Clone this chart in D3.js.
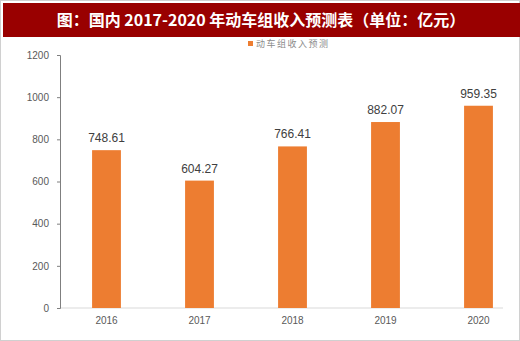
<!DOCTYPE html>
<html><head><meta charset="utf-8">
<script src="https://cdn.jsdelivr.net/npm/d3@7"></script>
<style>body{margin:0;background:#fff}svg{display:block}</style>
</head><body>
<script>
const categories = ["2016","2017","2018","2019","2020"];
const values = [748.61, 604.27, 766.41, 882.07, 959.35];
const yTicks = [0,200,400,600,800,1000,1200];
const title = "图：国内 2017-2020 年动车组收入预测表（单位：亿元）";
const seriesName = "动车组收入预测";

const W = 520, H = 341;
const svg = d3.select("body").append("svg").attr("width", W).attr("height", H);
svg.append("rect").attr("x",0.5).attr("y",0.5).attr("width",W-1).attr("height",H-1)
  .attr("fill","#fff").attr("stroke","#d0d0d0");
svg.append("rect").attr("x",3).attr("y",3).attr("width",W-3).attr("height",34).attr("fill","#990000");
svg.append("text").attr("x",261).attr("y",26).attr("text-anchor","middle")
  .attr("fill","#fff").attr("font-family","'Noto Sans CJK SC'").attr("font-weight","bold")
  .attr("font-size",16).text(title);

// legend
svg.append("rect").attr("x",248).attr("y",41).attr("width",5).attr("height",5).attr("fill","#ED7D31");
svg.append("text").attr("x",256).attr("y",47).attr("fill","#8c8c8c")
  .attr("font-family","'Noto Sans CJK SC'").attr("font-size",9).attr("letter-spacing",1.5).text(seriesName);

const x = d3.scaleBand().domain(categories).range([60,525]).paddingInner(0.69).paddingOuter(0.345);
const y = d3.scaleLinear().domain([0,1200]).range([308,55]);

// x baseline
svg.append("line").attr("x1",60).attr("x2",503).attr("y1",y(0)).attr("y2",y(0)).attr("stroke","#d9d9d9");

const yAxis = svg.append("g").attr("transform","translate(60,0)")
  .call(d3.axisLeft(y).tickValues(yTicks).tickFormat(d3.format("d")).tickSize(3).tickPadding(8));
yAxis.select(".domain").attr("stroke","#7f7f7f");
yAxis.selectAll(".tick line").attr("stroke","#7f7f7f");
yAxis.selectAll("text").attr("fill","#595959").attr("font-family","Liberation Sans, Arial").attr("font-size",10);

svg.selectAll(".bar").data(values).join("rect").attr("class","bar")
  .attr("x",(d,i)=>x(categories[i])).attr("width",x.bandwidth())
  .attr("y",d=>y(d)).attr("height",d=>y(0)-y(d)).attr("fill","#ED7D31");

svg.selectAll(".lbl").data(values).join("text").attr("class","lbl")
  .attr("x",(d,i)=>x(categories[i])+x.bandwidth()/2).attr("y",d=>y(d)-8)
  .attr("text-anchor","middle").attr("fill","#404040")
  .attr("font-family","Liberation Sans, Arial").attr("font-size",12).text(d=>d.toFixed(2));

const xAxis = svg.append("g").attr("transform",`translate(0,${y(0)})`)
  .call(d3.axisBottom(x).tickSize(0).tickPadding(9));
xAxis.select(".domain").remove();
xAxis.selectAll("text").attr("fill","#595959").attr("font-family","Liberation Sans, Arial").attr("font-size",10);
</script>
</body></html>
